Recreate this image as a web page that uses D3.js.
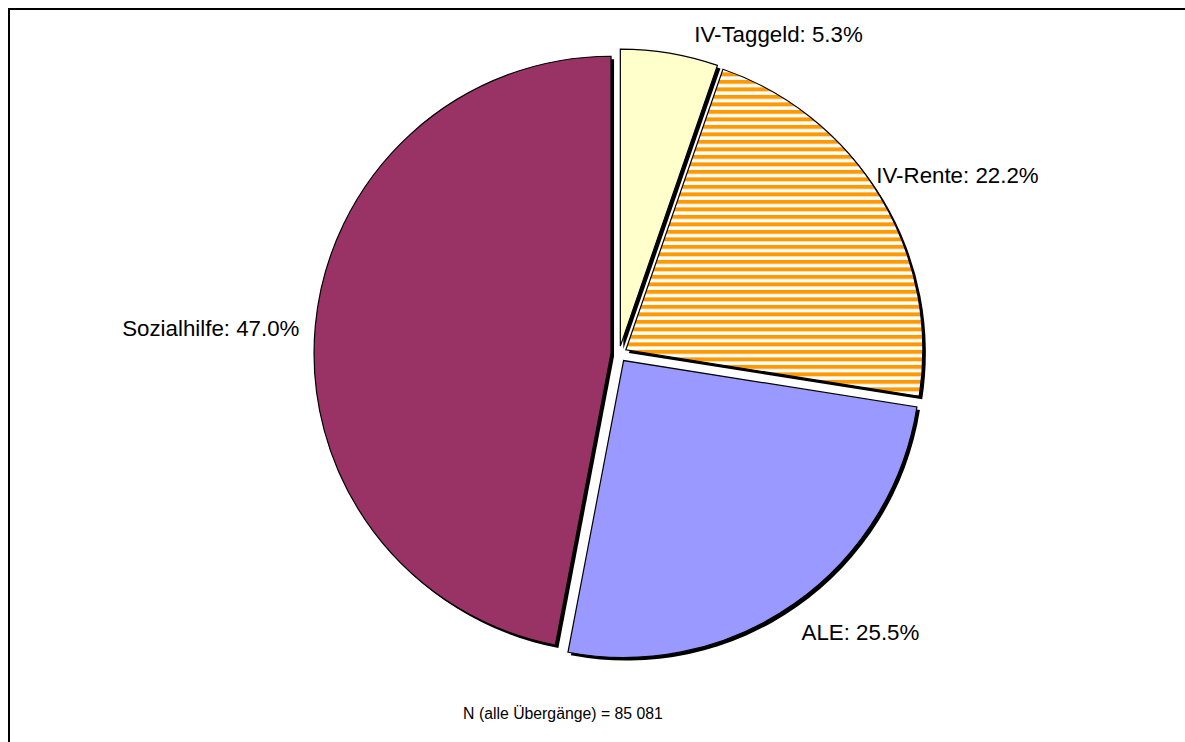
<!DOCTYPE html>
<html>
<head>
<meta charset="utf-8">
<script src="https://cdn.jsdelivr.net/npm/d3@7"></script>
<style>
  html, body { margin: 0; padding: 0; background: #fff; }
  svg { display: block; }
</style>
</head>
<body>
<svg id="chart" width="1185" height="742"></svg>
<script>
// ---- data ----
const categories = ["IV-Taggeld", "IV-Rente", "ALE", "Sozialhilfe"];
const shares = [5.3, 22.2, 25.5, 47.0];
const footnote = "N (alle Übergänge) = 85 081";

// ---- layout ----
const W = 1185, H = 742;
const cx = 619, cy = 354, R = 297, explode = 8, shadowOff = 3;
const fills = ["#FFFFCC", "url(#stripes)", "#9999FF", "#993366"];
// label tweak (relative to arc anchor point), text anchors
const labelTweak = [
  { dx: 22, dy: -3, anchor: "start" },
  { dx: -18, dy: -14, anchor: "start" },
  { dx: -2, dy: 16, anchor: "start" },
  { dx: 0, dy: 4, anchor: "end" }
];

const svg = d3.select("#chart");
const defs = svg.append("defs");
const pat = defs.append("pattern")
  .attr("id", "stripes").attr("patternUnits", "userSpaceOnUse")
  .attr("width", 8).attr("height", 7.5);
pat.append("rect").attr("width", 8).attr("height", 7.5).attr("fill", "#fff");
pat.append("rect").attr("y", 0).attr("width", 8).attr("height", 4).attr("fill", "#FF9900");

// frame
svg.append("rect").attr("x", 9).attr("y", 9).attr("width", W + 20).attr("height", H + 20)
  .attr("fill", "none").attr("stroke", "#000").attr("stroke-width", 2);

const data = categories.map((c, i) => ({ name: c, value: shares[i] }));
const pie = d3.pie().sort(null).value(d => d.value).startAngle(0).endAngle(2 * Math.PI);
const arcs = pie(data);
const arc = d3.arc().innerRadius(0).outerRadius(R);

function offset(d) {
  const m = (d.startAngle + d.endAngle) / 2;
  return [cx + explode * Math.sin(m), cy - explode * Math.cos(m)];
}

const g = svg.append("g");
// shadows
g.selectAll("path.shadow").data(arcs).join("path")
  .attr("class", "shadow")
  .attr("d", arc)
  .attr("transform", d => { const o = offset(d); return `translate(${o[0] + shadowOff},${o[1] + shadowOff})`; })
  .attr("fill", "#000");
// slices
g.selectAll("path.slice").data(arcs).join("path")
  .attr("class", "slice")
  .attr("d", arc)
  .attr("transform", d => { const o = offset(d); return `translate(${o[0]},${o[1]})`; })
  .attr("fill", (d, i) => fills[i])
  .attr("stroke", "#000").attr("stroke-width", 1.2).attr("stroke-linejoin", "miter");

// labels
const labelR = R + 16;
svg.selectAll("text.lbl").data(arcs).join("text")
  .attr("class", "lbl")
  .attr("x", (d, i) => { const m = (d.startAngle + d.endAngle) / 2; return offset(d)[0] + labelR * Math.sin(m) + labelTweak[i].dx; })
  .attr("y", (d, i) => { const m = (d.startAngle + d.endAngle) / 2; return offset(d)[1] - labelR * Math.cos(m) + labelTweak[i].dy; })
  .attr("dy", "0.35em")
  .attr("text-anchor", (d, i) => labelTweak[i].anchor)
  .attr("font-family", "'Liberation Sans', Arial, sans-serif")
  .attr("font-size", 22.3)
  .attr("fill", "#000")
  .text(d => `${d.data.name}: ${d.data.value.toFixed(1)}%`);

svg.append("text")
  .attr("x", 563).attr("y", 719)
  .attr("text-anchor", "middle")
  .attr("font-family", "'Liberation Sans', Arial, sans-serif")
  .attr("font-size", 15.8)
  .text(footnote);
</script>
</body>
</html>
